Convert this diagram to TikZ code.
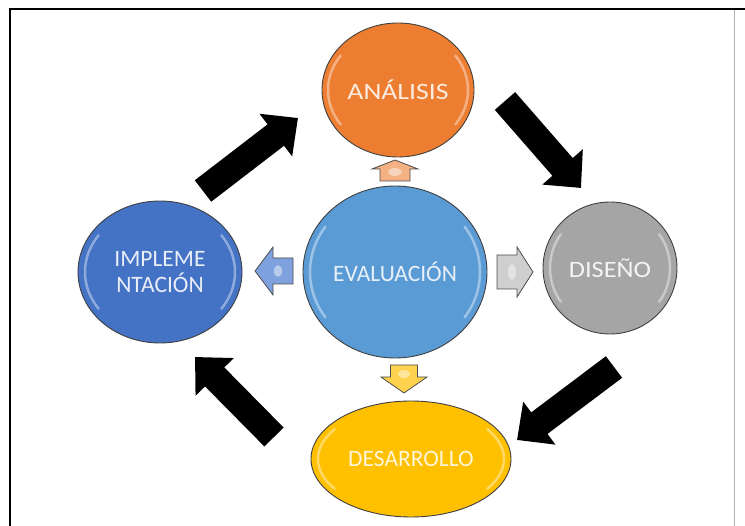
\documentclass[tikz,border=0pt]{standalone}
\usepackage{fontspec}
\setmainfont{Carlito}
\usetikzlibrary{shapes.geometric,arrows.meta}
\definecolor{cOrange}{HTML}{ED7D31}
\definecolor{cBlue}{HTML}{5B9BD5}
\definecolor{cDark}{HTML}{4472C4}
\definecolor{cGray}{HTML}{A5A5A5}
\definecolor{cGold}{HTML}{FFC000}
\definecolor{aOrange}{HTML}{F4B183}
\definecolor{aBlue}{HTML}{7FA2DE}
\definecolor{aGray}{HTML}{CFCFCF}
\definecolor{aGold}{HTML}{FFD24D}
\tikzset{
 bubble/.style={ellipse, draw=black!75, line width=0.9pt, inner sep=0pt, align=center,
   font=\fontsize{23.5}{26}\selectfont},
 gloss/.style={white, opacity=0.4, line width=2.5pt, line cap=round},
 blockarrow/.style={line width=27pt, line cap=butt, -{Triangle[length=28pt,width=52pt]}, black},
 frameline/.style={line width=2pt, black},
 smallarrow/.style={draw=black!70, line width=0.8pt, line join=miter}
}
\newcommand\myevarrow[8]{%
 \begin{scope}[shift={(#1,#2)}, rotate=#3]
  \filldraw[smallarrow, fill=#8] (0,-#6) -- (#4,-#6) -- (#4,-#7) -- (#5,0) -- (#4,#7) -- (#4,#6) -- (0,#6) -- cycle;
  \fill[white, opacity=0.45] (#4*0.75,0) ellipse [x radius=4, y radius=#6*0.45];
 \end{scope}}
\begin{document}
\begin{tikzpicture}[x=1pt, y=-1pt]
\useasboundingbox (0,0) rectangle (745,526);
% frame
\draw[frameline] (9,9) -- (745,9);
\draw[frameline] (10,8) -- (10,526);
\draw[gray!60, line width=0.8pt] (734,10) -- (734,526);

% bubbles
\node[bubble, fill=cOrange, minimum width=152, minimum height=134, text=white!85!cOrange] (ana) at (398,90) {\scalebox{1.18}[1]{ANÁLISIS}};
\node[bubble, fill=cBlue, minimum width=184, minimum height=172, text=white!85!cBlue] (eva) at (395,272) {EVALUACIÓN};
\node[bubble, fill=cDark, minimum width=164, minimum height=142, text=white!88!cDark] (imp) at (160,272) {IMPLEME\\NTACIÓN};
\node[bubble, fill=cGray, minimum width=134, minimum height=132, text=white!88!cGray] (dis) at (610,268) {\scalebox{1.12}[1]{DISEÑO}};
\node[bubble, fill=cGold, minimum width=200, minimum height=116, text=white!85!cGold] (des) at (411,459) {DESARROLLO};

% gloss highlights
\draw[gloss] ([shift={(145:70 and 60)}]ana.center) arc[start angle=145, end angle=215, x radius=70, y radius=60];
\draw[gloss] ([shift={(-35:70 and 60)}]ana.center) arc[start angle=-35, end angle=35, x radius=70, y radius=60];
\draw[gloss] ([shift={(145:85 and 79)}]eva.center) arc[start angle=145, end angle=215, x radius=85, y radius=79];
\draw[gloss] ([shift={(-35:85 and 79)}]eva.center) arc[start angle=-35, end angle=35, x radius=85, y radius=79];
\draw[gloss] ([shift={(145:75 and 64)}]imp.center) arc[start angle=145, end angle=215, x radius=75, y radius=64];
\draw[gloss] ([shift={(-35:75 and 64)}]imp.center) arc[start angle=-35, end angle=35, x radius=75, y radius=64];
\draw[gloss] ([shift={(145:60 and 59)}]dis.center) arc[start angle=145, end angle=215, x radius=60, y radius=59];
\draw[gloss] ([shift={(-35:60 and 59)}]dis.center) arc[start angle=-35, end angle=35, x radius=60, y radius=59];
\draw[gloss] ([shift={(145:93 and 52)}]des.center) arc[start angle=145, end angle=215, x radius=93, y radius=52];
\draw[gloss] ([shift={(-35:93 and 52)}]des.center) arc[start angle=-35, end angle=35, x radius=93, y radius=52];

% small arrows from EVALUACION
\myevarrow{395}{181}{90}{12}{21}{15}{23}{aOrange}
\myevarrow{404}{365}{-90}{12}{28}{13.5}{23}{aGold}
\myevarrow{293}{271}{180}{20}{38}{13}{24}{aBlue}
\myevarrow{497}{272}{0}{20}{36}{17}{25}{aGray}

% big black arrows
\coordinate (a1s) at (203,191); \coordinate (a1e) at (298,118);
\coordinate (a2s) at (505,101); \coordinate (a2e) at (581,188);
\coordinate (a3s) at (614,367); \coordinate (a3e) at (517,440);
\coordinate (a4s) at (274,437); \coordinate (a4e) at (195,357);
\draw[blockarrow] (a1s) -- (a1e);
\draw[blockarrow] (a2s) -- (a2e);
\draw[blockarrow] (a3s) -- (a3e);
\draw[blockarrow] (a4s) -- (a4e);
\end{tikzpicture}
\end{document}
